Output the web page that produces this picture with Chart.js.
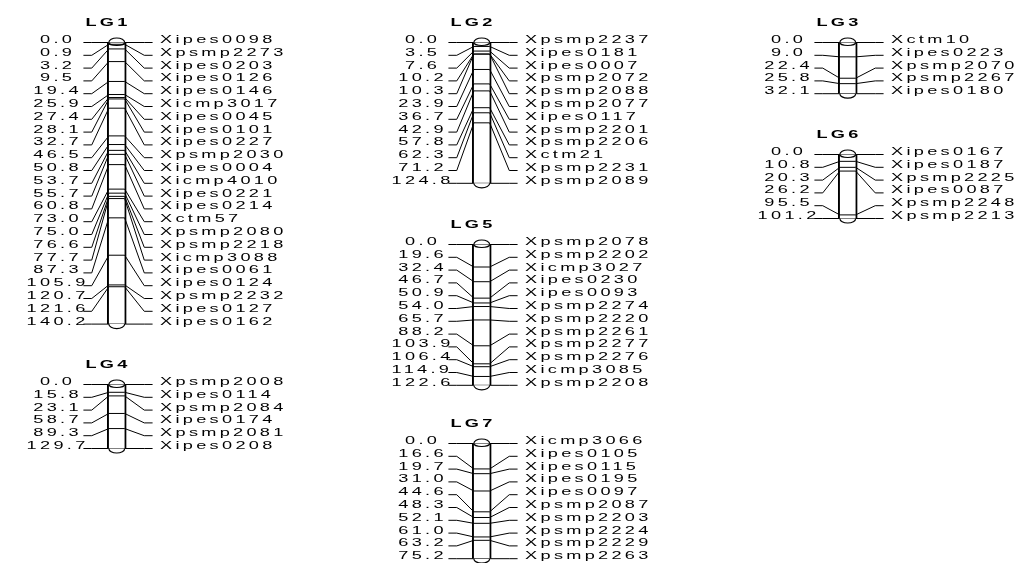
<!DOCTYPE html>
<html><head><meta charset="utf-8">
<script src="https://cdn.jsdelivr.net/npm/chart.js@4.4.0/dist/chart.umd.min.js"></script>
<style>
html,body{margin:0;padding:0;background:#fff;width:1022px;height:563px;overflow:hidden;position:relative}
canvas.lg{position:absolute}
</style></head><body>
<script>
// ---------- data ----------
const LG1_names = ['Xipes0098','Xpsmp2273','Xipes0203','Xipes0126','Xipes0146','Xicmp3017','Xipes0045','Xipes0101','Xipes0227','Xpsmp2030','Xipes0004','Xicmp4010','Xipes0221','Xipes0214','Xctm57','Xpsmp2080','Xpsmp2218','Xicmp3088','Xipes0061','Xipes0124','Xpsmp2232','Xipes0127','Xipes0162'];
const LG1_pos = [0.0,0.9,3.2,9.5,19.4,25.9,27.4,28.1,32.7,46.5,50.8,53.7,55.7,60.8,73.0,75.0,76.6,77.7,87.3,105.9,120.7,121.6,140.2];

const LG2_names = ['Xpsmp2237','Xipes0181','Xipes0007','Xpsmp2072','Xpsmp2088','Xpsmp2077','Xipes0117','Xpsmp2201','Xpsmp2206','Xctm21','Xpsmp2231','Xpsmp2089'];
const LG2_pos = [0.0,3.5,7.6,10.2,10.3,23.9,36.7,42.9,57.8,62.3,71.2,124.8];

const LG3_names = ['Xctm10','Xipes0223','Xpsmp2070','Xpsmp2267','Xipes0180'];
const LG3_pos = [0.0,9.0,22.4,25.8,32.1];

const LG4_names = ['Xpsmp2008','Xipes0114','Xpsmp2084','Xipes0174','Xpsmp2081','Xipes0208'];
const LG4_pos = [0.0,15.8,23.1,58.7,89.3,129.7];

const LG5_names = ['Xpsmp2078','Xpsmp2202','Xicmp3027','Xipes0230','Xipes0093','Xpsmp2274','Xpsmp2220','Xpsmp2261','Xpsmp2277','Xpsmp2276','Xicmp3085','Xpsmp2208'];
const LG5_pos = [0.0,19.6,32.4,46.7,50.9,54.0,65.7,88.2,103.9,106.4,114.9,122.6];

const LG6_names = ['Xipes0167','Xipes0187','Xpsmp2225','Xipes0087','Xpsmp2248','Xpsmp2213'];
const LG6_pos = [0.0,10.8,20.3,26.2,95.5,101.2];

const LG7_names = ['Xicmp3066','Xipes0105','Xipes0115','Xipes0195','Xipes0097','Xpsmp2087','Xpsmp2203','Xpsmp2224','Xpsmp2229','Xpsmp2263'];
const LG7_pos = [0.0,16.6,19.7,31.0,44.6,48.3,52.1,61.0,63.2,75.2];

const groupTitles = ['LG1','LG2','LG3','LG4','LG5','LG6','LG7'];
const groupNames = [LG1_names,LG2_names,LG3_names,LG4_names,LG5_names,LG6_names,LG7_names];
const groupPos = [LG1_pos,LG2_pos,LG3_pos,LG4_pos,LG5_pos,LG6_pos,LG7_pos];

// ---------- layout (pixels) ----------
const barCentre = [110.5, 475.5, 841.5, 110.5, 475.5, 841.5, 475.5];
const firstRowY = [42.5, 42.5, 42.5, 384.5, 244.5, 154.5, 443.5];
const ROW = 12.8;
const CAN_L = 116, CAN_R = 190, CAN_T = 32, CAN_B = 12;
const X_NUM = -73, X_LSTART = -40, X_LELBOW = -30, BAR_HALF = 9.5,
      X_RELBOW = 33, X_REND = 43, X_NAME = 52, X_TITLE = -12.5;
const SX = 1.65, LS = 2.0;
const FONT = '"Liberation Sans", Arial, sans-serif';

function drawStretched(ctx, text, x, y, align, bold) {
  ctx.save();
  ctx.font = (bold ? 'bold ' : '') + '11px ' + FONT;
  ctx.fillStyle = '#000';
  ctx.textBaseline = 'alphabetic';
  ctx.textAlign = 'left';
  const hasLS = ('letterSpacing' in ctx);
  if (hasLS) ctx.letterSpacing = '0px';
  let w = 0;
  for (const ch of text) w += ctx.measureText(ch).width;
  w += LS * (text.length - 1);
  let x0 = align === 'center' ? x - w * SX / 2 : x;
  ctx.translate(x0, y);
  ctx.scale(SX, 1);
  if (hasLS) {
    ctx.letterSpacing = LS + 'px';
    ctx.fillText(text, 0, 0);
  } else {
    let cx = 0;
    for (const ch of text) { ctx.fillText(ch, cx, 0); cx += ctx.measureText(ch).width + LS; }
  }
  ctx.restore();
}

const lgPlugin = {
  id: 'lgText',
  afterDatasetsDraw(chart) {
    const g = chart.options.plugins.lgText;
    const ctx = chart.ctx;
    const xs = chart.scales.x, ys = chart.scales.y;
    const cx = xs.getPixelForValue(0);
    const y0 = ys.getPixelForValue(0);
    const yL = ys.getPixelForValue(g.len);
    const rx = xs.getPixelForValue(BAR_HALF) - cx;
    // caps
    ctx.save();
    ctx.strokeStyle = '#000';
    ctx.fillStyle = '#fff';
    ctx.lineWidth = 1.2;
    ctx.beginPath();
    ctx.ellipse(cx, y0, rx, 4.5, 0, Math.PI, 2 * Math.PI);
    ctx.fill(); ctx.stroke();
    ctx.beginPath();
    ctx.ellipse(cx, y0, rx, 3, 0, 0, Math.PI);
    ctx.stroke();
    ctx.beginPath();
    ctx.ellipse(cx, yL, rx, 4.5, 0, 0, Math.PI);
    ctx.fill(); ctx.stroke();
    ctx.restore();
    // title
    drawStretched(ctx, g.title, xs.getPixelForValue(X_TITLE), y0 - 16.5, 'center', true);
    // labels
    const n = g.names.length;
    for (let i = 0; i < n; i++) {
      const slot = g.len * i / (n - 1);
      const y = ys.getPixelForValue(slot) + 0.5;
      drawStretched(ctx, g.pos[i].toFixed(1), xs.getPixelForValue(X_NUM), y, 'center', false);
      drawStretched(ctx, g.names[i], xs.getPixelForValue(X_NAME), y, 'left', false);
    }
  }
};

groupTitles.forEach((title, gi) => {
  const names = groupNames[gi], pos = groupPos[gi];
  const n = names.length;
  const len = pos[n - 1];
  const left = Math.round(barCentre[gi]) - CAN_L;
  const top = Math.round(firstRowY[gi]) - CAN_T;
  const padTop = firstRowY[gi] - top;
  const W = CAN_L + CAN_R;
  const H = Math.round(padTop + (n - 1) * ROW + CAN_B);
  const xmin = left - barCentre[gi];
  const cv = document.createElement('canvas');
  cv.className = 'lg';
  cv.width = W; cv.height = H;
  cv.style.left = left + 'px'; cv.style.top = top + 'px';
  cv.style.width = W + 'px'; cv.style.height = H + 'px';
  document.body.appendChild(cv);

  const datasets = [{
    type: 'bar',
    data: [{ x: 0, y: [0, len] }],
    barThickness: 19,
    backgroundColor: '#fff',
    borderColor: '#000',
    borderWidth: { left: 2, right: 2, top: 0, bottom: 0 },
    borderSkipped: false,
    order: 10,
    clip: false
  }];
  for (let i = 0; i < n; i++) {
    const s = len * i / (n - 1), p = pos[i];
    datasets.push({
      type: 'line',
      data: [
        { x: X_LSTART, y: s }, { x: X_LELBOW, y: s },
        { x: -BAR_HALF, y: p }, { x: BAR_HALF, y: p },
        { x: X_RELBOW, y: s }, { x: X_REND, y: s }
      ],
      borderColor: '#000',
      borderWidth: 1,
      pointRadius: 0,
      tension: 0,
      fill: false,
      order: 0,
      clip: false
    });
  }

  new Chart(cv, {
    type: 'bar',
    data: { datasets },
    options: {
      responsive: false,
      animation: false,
      events: [],
      layout: { padding: { left: 0, right: 0, top: padTop, bottom: H - padTop - (n - 1) * ROW } },
      scales: {
        x: { type: 'linear', min: xmin, max: xmin + W, display: false },
        y: { type: 'linear', min: 0, max: len, reverse: true, display: false }
      },
      plugins: {
        legend: { display: false },
        tooltip: { enabled: false },
        title: { display: false },
        lgText: { title, names, pos, len }
      }
    },
    plugins: [lgPlugin]
  });
});
</script>
</body></html>
